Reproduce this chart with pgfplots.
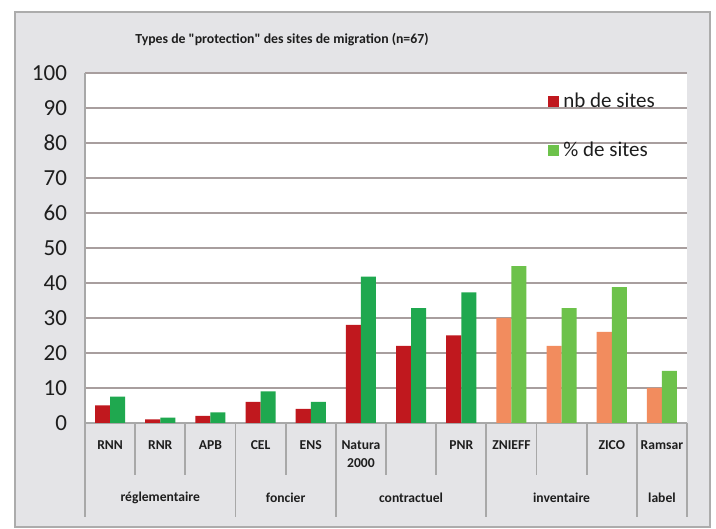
\documentclass[border=0pt]{standalone}
\usepackage{pgfplots}
\pgfplotsset{compat=1.18}
\usepackage{fontspec}
\setmainfont{Carlito}
\newfontfamily\titlefont{Carlito}[Ligatures=TeXOff]
\definecolor{redbar}{HTML}{C0181E}
\definecolor{greenbar}{HTML}{1FA84F}
\definecolor{orangebar}{HTML}{F28C5E}
\definecolor{lgreenbar}{HTML}{6DC24B}
\definecolor{panel}{HTML}{E4E4E7}
\definecolor{framegray}{HTML}{ACACAC}
\definecolor{gridgray}{HTML}{A89E9E}
\definecolor{sepgray}{HTML}{A8A8A8}
\definecolor{txt}{HTML}{1E1E1E}
\pgfplotsset{sq legend/.style={legend image code/.code={\fill[##1,draw=none] (0pt,-2.75pt) rectangle (5.5pt,2.75pt);}}}
\begin{document}
\begin{tikzpicture}
\fill[white] (0,0) rectangle (358pt,264pt);
\fill[panel] (7.5pt,0.5pt) rectangle (355pt,258pt);
\draw[framegray, line width=1.2pt] (7.5pt,0.5pt) rectangle (355pt,258pt);
\node[font=\titlefont\bfseries\fontsize{6.9}{8}\selectfont, text=txt] at (141pt,244pt) {Types de "protection" des sites de migration (n=67)};
\begin{axis}[
  at={(42.5pt,52.5pt)}, anchor=south west,
  scale only axis, width=301pt, height=175pt,
  xmin=-0.5, xmax=11.5, ymin=0, ymax=100,
  ytick={0,10,...,100},
  xtick={0,...,11},
  xticklabels={RNN,RNR,APB,CEL,ENS,{Natura\\2000},,PNR,ZNIEFF,,ZICO,Ramsar},
  xticklabel style={font=\bfseries\fontsize{6.8}{9}\selectfont, text=txt, align=center, anchor=north, yshift=-5.5pt},
  yticklabel style={font=\fontsize{11.5}{12}\selectfont, text=txt, xshift=-5.5pt},
  /pgf/number format/assume math mode=true,
  major tick length=0pt,
  axis y line*=left, axis x line*=bottom,
  axis line style={draw=sepgray, line width=1pt},
  ymajorgrids, major grid style={draw=gridgray, line width=1pt},
  axis background/.style={fill=white},
  clip=false,
  legend style={at={(0.769,0.957)}, anchor=north west, draw=none, fill=none,
    font=\fontsize{10.5}{12}\selectfont, text=txt, row sep=12pt, inner sep=0pt,
    legend cell align=left},
]
\addplot[ybar, bar width=0.3, bar shift=-0.15, fill=redbar, draw=none, sq legend] coordinates
  {(0,5) (1,1) (2,2) (3,6) (4,4) (5,28) (6,22) (7,25)};
\addlegendentry{nb de sites}
\addplot[ybar, bar width=0.3, bar shift=0.15, fill=greenbar, draw=none, sq legend, legend image code/.code={\fill[lgreenbar] (0pt,-2.75pt) rectangle (5.5pt,2.75pt);}] coordinates
  {(0,7.5) (1,1.5) (2,3) (3,9) (4,6) (5,41.8) (6,32.8) (7,37.3)};
\addlegendentry{\% de sites}
\addplot[ybar, bar width=0.3, bar shift=-0.15, fill=orangebar, draw=none, forget plot] coordinates
  {(8,30) (9,22) (10,26) (11,10)};
\addplot[ybar, bar width=0.3, bar shift=0.15, fill=lgreenbar, draw=none, forget plot] coordinates
  {(8,44.8) (9,32.8) (10,38.8) (11,14.9)};
\pgfplotsinvokeforeach{0.5,1.5,3.5,5.5,6.5,8.5,9.5}{
  \draw[sepgray, line width=0.9pt] (axis cs:#1,0) -- ++(0pt,-26pt);
}
\pgfplotsinvokeforeach{-0.5,2.5,4.5,7.5,10.5,11.5}{
  \draw[sepgray, line width=0.9pt] (axis cs:#1,0) -- ++(0pt,-47pt);
}
\node[font=\bfseries\fontsize{6.8}{8}\selectfont, text=txt] at ([yshift=-37.5pt]axis cs:1,0) {réglementaire};
\node[font=\bfseries\fontsize{6.8}{8}\selectfont, text=txt] at ([yshift=-37.5pt]axis cs:3.5,0) {foncier};
\node[font=\bfseries\fontsize{6.8}{8}\selectfont, text=txt] at ([yshift=-37.5pt]axis cs:6,0) {contractuel};
\node[font=\bfseries\fontsize{6.8}{8}\selectfont, text=txt] at ([yshift=-37.5pt]axis cs:9,0) {inventaire};
\node[font=\bfseries\fontsize{6.8}{8}\selectfont, text=txt] at ([yshift=-37.5pt]axis cs:11,0) {label};
\end{axis}
\end{tikzpicture}
\end{document}
